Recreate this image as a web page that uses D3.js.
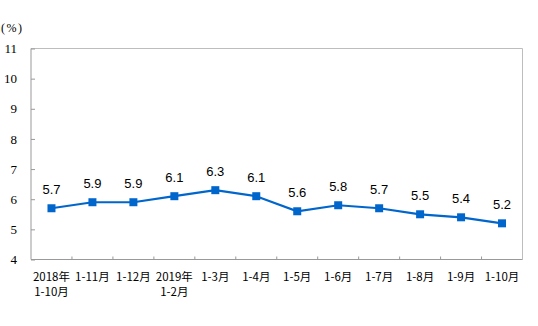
<!DOCTYPE html>
<html><head><meta charset="utf-8">
<script src="https://cdn.jsdelivr.net/npm/d3@7"></script>
<style>body{margin:0;background:#fff}svg{display:block}</style>
</head><body><svg id="c" width="538" height="326"></svg>
<script>
const categories = [["2018年","1-10月"],["1-11月"],["1-12月"],["2019年","1-2月"],["1-3月"],["1-4月"],["1-5月"],["1-6月"],["1-7月"],["1-8月"],["1-9月"],["1-10月"]];
const values = [5.7,5.9,5.9,6.1,6.3,6.1,5.6,5.8,5.7,5.5,5.4,5.2];
const yTicks = [4,5,6,7,8,9,10,11];
const unitLabel = "(%)";

const svg = d3.select("#c");
const L = 31, R = 522.5, T = 48.5, B = 259.5;
const x = d3.scaleBand().domain(d3.range(categories.length)).range([L, R]);
const y = d3.scaleLinear().domain([4, 11]).range([B, T]);
const blue = "#0066CC";

// frame top/right
svg.append("path").attr("d", `M${L},${T}H${R}V${B}`).attr("fill","none").attr("stroke","#bdbdbd").attr("stroke-width",1);

// y axis
const ya = svg.append("g").attr("transform",`translate(${L},0)`)
  .call(d3.axisLeft(y).tickValues(yTicks).tickFormat(d3.format("d")).tickSize(-4).tickPadding(10));
ya.select(".domain").attr("stroke","#999").attr("d",`M0,${T}V${B}`);
ya.selectAll(".tick line").attr("stroke","#999");
ya.selectAll(".tick text").attr("font-family","'Liberation Serif','DejaVu Serif',serif").attr("font-size",13).attr("fill","#000").attr("x",-14);

// x axis
const xa = svg.append("g").attr("transform",`translate(0,${B})`)
  .call(d3.axisBottom(x).tickSize(0).tickFormat(""));
xa.select(".domain").attr("stroke","#999").attr("d",`M${L},0H${R}`);
// boundary ticks
svg.append("g").selectAll("line").data(d3.range(1, categories.length)).join("line")
  .attr("x1", i => x(i)).attr("x2", i => x(i)).attr("y1", B-3).attr("y2", B)
  .attr("stroke","#999");

// x labels
const xl = svg.append("g");
categories.forEach((lines, i) => {
  const t = xl.append("text").attr("x", x(i) + x.bandwidth()/2).attr("text-anchor","middle")
    .attr("font-family","'Noto Sans CJK SC',sans-serif").attr("font-size",11.5).attr("fill","#000");
  lines.forEach((s, j) => t.append("tspan").attr("x", x(i) + x.bandwidth()/2).attr("y", 281 + j*15).text(s));
});

// unit label
svg.append("text").attr("x",1).attr("y",32).attr("font-family","'Liberation Serif',serif").attr("font-size",12).attr("letter-spacing",1.5).attr("fill","#000").text(unitLabel);

// line
const cx = i => x(i) + x.bandwidth()/2;
svg.append("path").datum(values).attr("fill","none").attr("stroke",blue).attr("stroke-width",2.2)
  .attr("d", d3.line().x((d,i)=>cx(i)).y(d=>y(d)));
svg.append("g").selectAll("rect").data(values).join("rect")
  .attr("x",(d,i)=>cx(i)-4).attr("y",d=>y(d)-4).attr("width",8).attr("height",8).attr("fill",blue);
svg.append("g").selectAll("text").data(values).join("text")
  .attr("x",(d,i)=>cx(i)).attr("y",d=>y(d)-14).attr("text-anchor","middle")
  .attr("font-family","'Liberation Sans',Arial,sans-serif").attr("font-size",13).attr("fill","#000")
  .text(d=>d.toFixed(1));
</script></body></html>
